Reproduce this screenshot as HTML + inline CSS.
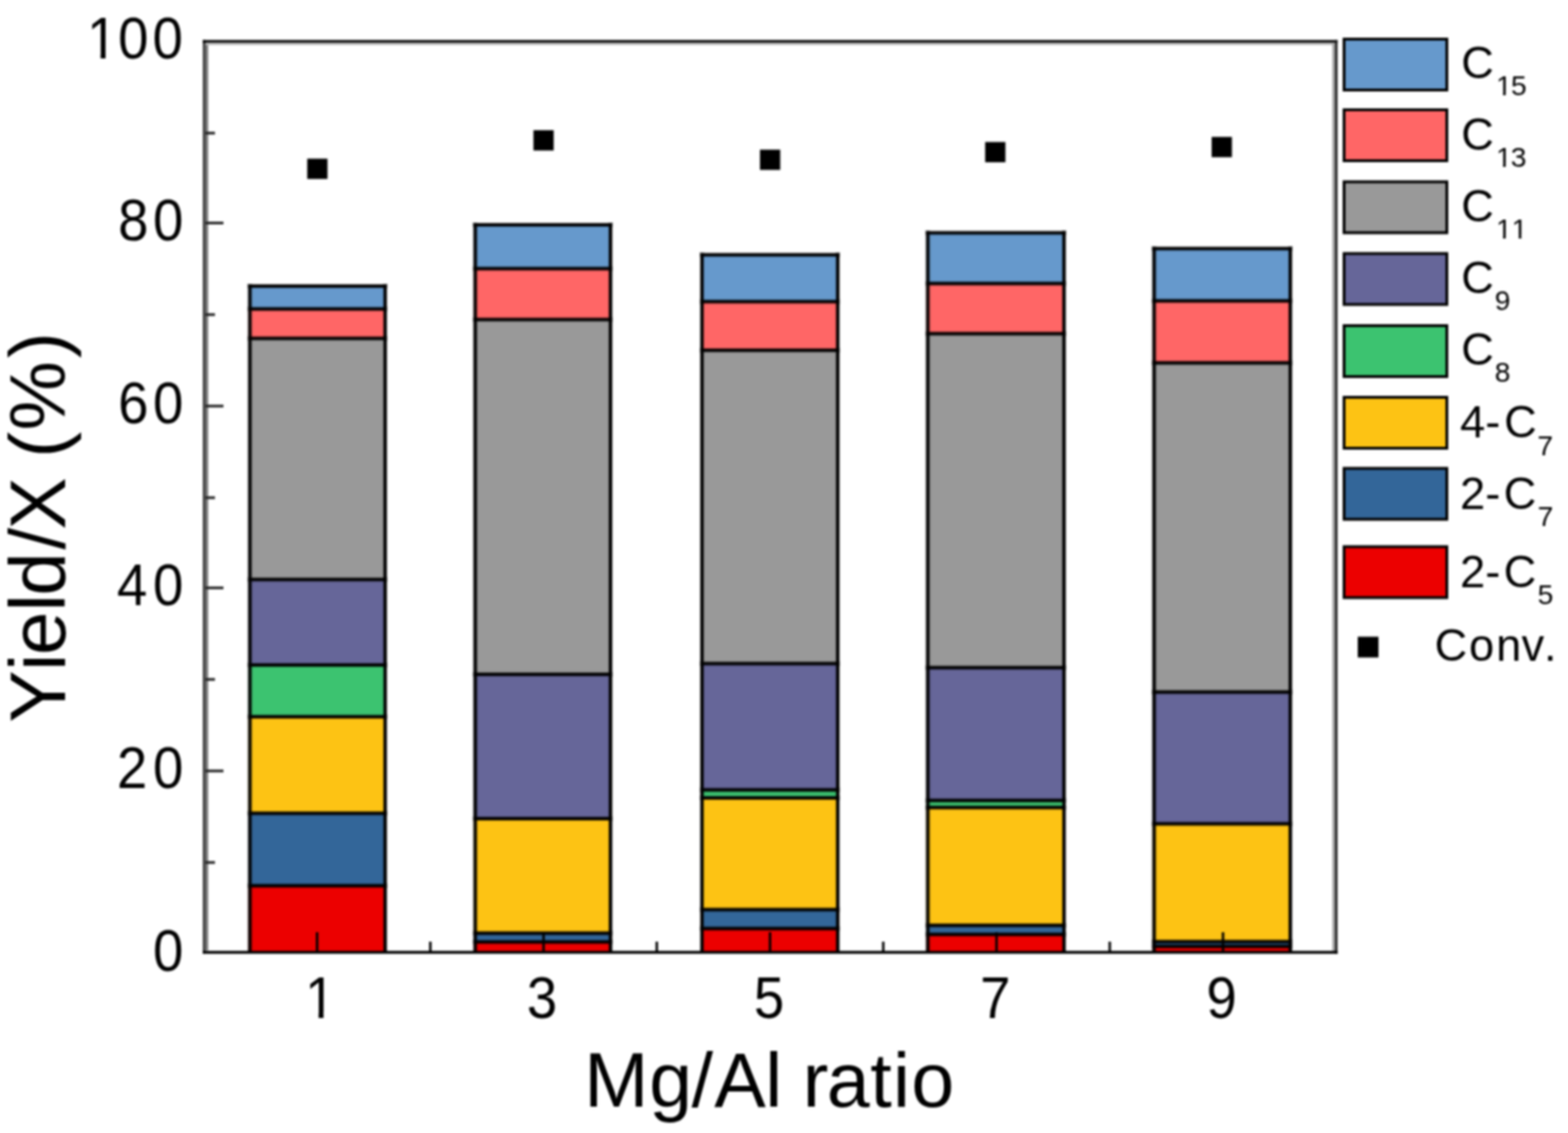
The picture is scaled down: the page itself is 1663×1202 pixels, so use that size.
<!DOCTYPE html><html><head><meta charset="utf-8"><title>Mg/Al ratio chart</title><style>html,body{margin:0;padding:0;background:#fff;}svg{display:block;}body{filter:blur(0.8px);}text{font-family:"Liberation Sans", Arial, Helvetica, sans-serif;fill:#000;}</style></head><body>
<svg width="1663" height="1202" viewBox="0 0 1663 1202">
<rect x="0" y="0" width="1663" height="1202" fill="#fff"/>
<rect x="263.50" y="303.50" width="146.50" height="24.30" fill="#6699CC"/>
<rect x="263.50" y="327.80" width="146.50" height="31.20" fill="#FF6666"/>
<rect x="263.50" y="359.00" width="146.50" height="255.80" fill="#999999"/>
<rect x="263.50" y="614.80" width="146.50" height="90.70" fill="#666699"/>
<rect x="263.50" y="705.50" width="146.50" height="54.90" fill="#3CC370"/>
<rect x="263.50" y="760.40" width="146.50" height="102.40" fill="#FDC314"/>
<rect x="263.50" y="862.80" width="146.50" height="76.90" fill="#336699"/>
<rect x="263.50" y="939.70" width="146.50" height="70.30" fill="#EC0000"/>
<rect x="502.50" y="238.50" width="146.50" height="46.50" fill="#6699CC"/>
<rect x="502.50" y="285.00" width="146.50" height="54.00" fill="#FF6666"/>
<rect x="502.50" y="339.00" width="146.50" height="376.40" fill="#999999"/>
<rect x="502.50" y="715.40" width="146.50" height="153.10" fill="#666699"/>
<rect x="502.50" y="868.50" width="146.50" height="121.50" fill="#FDC314"/>
<rect x="502.50" y="990.00" width="146.50" height="9.30" fill="#336699"/>
<rect x="502.50" y="999.30" width="146.50" height="10.70" fill="#EC0000"/>
<rect x="743.00" y="270.30" width="147.00" height="49.70" fill="#6699CC"/>
<rect x="743.00" y="320.00" width="147.00" height="51.60" fill="#FF6666"/>
<rect x="743.00" y="371.60" width="147.00" height="332.40" fill="#999999"/>
<rect x="743.00" y="704.00" width="147.00" height="134.00" fill="#666699"/>
<rect x="743.00" y="838.00" width="147.00" height="8.50" fill="#3CC370"/>
<rect x="743.00" y="846.50" width="147.00" height="118.50" fill="#FDC314"/>
<rect x="743.00" y="965.00" width="147.00" height="20.10" fill="#336699"/>
<rect x="743.00" y="985.10" width="147.00" height="24.90" fill="#EC0000"/>
<rect x="982.50" y="247.00" width="147.50" height="53.80" fill="#6699CC"/>
<rect x="982.50" y="300.80" width="147.50" height="53.20" fill="#FF6666"/>
<rect x="982.50" y="354.00" width="147.50" height="354.30" fill="#999999"/>
<rect x="982.50" y="708.30" width="147.50" height="140.90" fill="#666699"/>
<rect x="982.50" y="849.20" width="147.50" height="7.50" fill="#3CC370"/>
<rect x="982.50" y="856.70" width="147.50" height="125.00" fill="#FDC314"/>
<rect x="982.50" y="981.70" width="147.50" height="9.60" fill="#336699"/>
<rect x="982.50" y="991.30" width="147.50" height="18.70" fill="#EC0000"/>
<rect x="1222.50" y="263.70" width="147.50" height="55.50" fill="#6699CC"/>
<rect x="1222.50" y="319.20" width="147.50" height="65.80" fill="#FF6666"/>
<rect x="1222.50" y="385.00" width="147.50" height="349.20" fill="#999999"/>
<rect x="1222.50" y="734.20" width="147.50" height="139.80" fill="#666699"/>
<rect x="1222.50" y="874.00" width="147.50" height="125.00" fill="#FDC314"/>
<rect x="1222.50" y="999.00" width="147.50" height="5.00" fill="#336699"/>
<rect x="1222.50" y="1004.00" width="147.50" height="6.00" fill="#EC0000"/>
<rect x="262.50" y="301.00" width="5.00" height="710.00" fill="#000" fill-opacity="0.35"/>
<rect x="263.50" y="302.00" width="3.00" height="708.00" fill="#000"/>
<rect x="406.00" y="301.00" width="5.00" height="710.00" fill="#000" fill-opacity="0.35"/>
<rect x="407.00" y="302.00" width="3.00" height="708.00" fill="#000"/>
<rect x="262.50" y="301.00" width="148.50" height="5.00" fill="#000" fill-opacity="0.35"/>
<rect x="263.50" y="302.00" width="146.50" height="3.00" fill="#000"/>
<rect x="262.50" y="325.30" width="148.50" height="5.00" fill="#000" fill-opacity="0.35"/>
<rect x="263.50" y="326.30" width="146.50" height="3.00" fill="#000"/>
<rect x="262.50" y="356.50" width="148.50" height="5.00" fill="#000" fill-opacity="0.35"/>
<rect x="263.50" y="357.50" width="146.50" height="3.00" fill="#000"/>
<rect x="262.50" y="612.30" width="148.50" height="5.00" fill="#000" fill-opacity="0.35"/>
<rect x="263.50" y="613.30" width="146.50" height="3.00" fill="#000"/>
<rect x="262.50" y="703.00" width="148.50" height="5.00" fill="#000" fill-opacity="0.35"/>
<rect x="263.50" y="704.00" width="146.50" height="3.00" fill="#000"/>
<rect x="262.50" y="757.90" width="148.50" height="5.00" fill="#000" fill-opacity="0.35"/>
<rect x="263.50" y="758.90" width="146.50" height="3.00" fill="#000"/>
<rect x="262.50" y="860.30" width="148.50" height="5.00" fill="#000" fill-opacity="0.35"/>
<rect x="263.50" y="861.30" width="146.50" height="3.00" fill="#000"/>
<rect x="262.50" y="937.20" width="148.50" height="5.00" fill="#000" fill-opacity="0.35"/>
<rect x="263.50" y="938.20" width="146.50" height="3.00" fill="#000"/>
<rect x="501.50" y="236.00" width="5.00" height="775.00" fill="#000" fill-opacity="0.35"/>
<rect x="502.50" y="237.00" width="3.00" height="773.00" fill="#000"/>
<rect x="645.00" y="236.00" width="5.00" height="775.00" fill="#000" fill-opacity="0.35"/>
<rect x="646.00" y="237.00" width="3.00" height="773.00" fill="#000"/>
<rect x="501.50" y="236.00" width="148.50" height="5.00" fill="#000" fill-opacity="0.35"/>
<rect x="502.50" y="237.00" width="146.50" height="3.00" fill="#000"/>
<rect x="501.50" y="282.50" width="148.50" height="5.00" fill="#000" fill-opacity="0.35"/>
<rect x="502.50" y="283.50" width="146.50" height="3.00" fill="#000"/>
<rect x="501.50" y="336.50" width="148.50" height="5.00" fill="#000" fill-opacity="0.35"/>
<rect x="502.50" y="337.50" width="146.50" height="3.00" fill="#000"/>
<rect x="501.50" y="712.90" width="148.50" height="5.00" fill="#000" fill-opacity="0.35"/>
<rect x="502.50" y="713.90" width="146.50" height="3.00" fill="#000"/>
<rect x="501.50" y="866.00" width="148.50" height="5.00" fill="#000" fill-opacity="0.35"/>
<rect x="502.50" y="867.00" width="146.50" height="3.00" fill="#000"/>
<rect x="501.50" y="987.50" width="148.50" height="5.00" fill="#000" fill-opacity="0.35"/>
<rect x="502.50" y="988.50" width="146.50" height="3.00" fill="#000"/>
<rect x="501.50" y="996.80" width="148.50" height="5.00" fill="#000" fill-opacity="0.35"/>
<rect x="502.50" y="997.80" width="146.50" height="3.00" fill="#000"/>
<rect x="742.00" y="267.80" width="5.00" height="743.20" fill="#000" fill-opacity="0.35"/>
<rect x="743.00" y="268.80" width="3.00" height="741.20" fill="#000"/>
<rect x="886.00" y="267.80" width="5.00" height="743.20" fill="#000" fill-opacity="0.35"/>
<rect x="887.00" y="268.80" width="3.00" height="741.20" fill="#000"/>
<rect x="742.00" y="267.80" width="149.00" height="5.00" fill="#000" fill-opacity="0.35"/>
<rect x="743.00" y="268.80" width="147.00" height="3.00" fill="#000"/>
<rect x="742.00" y="317.50" width="149.00" height="5.00" fill="#000" fill-opacity="0.35"/>
<rect x="743.00" y="318.50" width="147.00" height="3.00" fill="#000"/>
<rect x="742.00" y="369.10" width="149.00" height="5.00" fill="#000" fill-opacity="0.35"/>
<rect x="743.00" y="370.10" width="147.00" height="3.00" fill="#000"/>
<rect x="742.00" y="701.50" width="149.00" height="5.00" fill="#000" fill-opacity="0.35"/>
<rect x="743.00" y="702.50" width="147.00" height="3.00" fill="#000"/>
<rect x="742.00" y="835.50" width="149.00" height="5.00" fill="#000" fill-opacity="0.35"/>
<rect x="743.00" y="836.50" width="147.00" height="3.00" fill="#000"/>
<rect x="742.00" y="844.00" width="149.00" height="5.00" fill="#000" fill-opacity="0.35"/>
<rect x="743.00" y="845.00" width="147.00" height="3.00" fill="#000"/>
<rect x="742.00" y="962.50" width="149.00" height="5.00" fill="#000" fill-opacity="0.35"/>
<rect x="743.00" y="963.50" width="147.00" height="3.00" fill="#000"/>
<rect x="742.00" y="982.60" width="149.00" height="5.00" fill="#000" fill-opacity="0.35"/>
<rect x="743.00" y="983.60" width="147.00" height="3.00" fill="#000"/>
<rect x="981.50" y="244.50" width="5.00" height="766.50" fill="#000" fill-opacity="0.35"/>
<rect x="982.50" y="245.50" width="3.00" height="764.50" fill="#000"/>
<rect x="1126.00" y="244.50" width="5.00" height="766.50" fill="#000" fill-opacity="0.35"/>
<rect x="1127.00" y="245.50" width="3.00" height="764.50" fill="#000"/>
<rect x="981.50" y="244.50" width="149.50" height="5.00" fill="#000" fill-opacity="0.35"/>
<rect x="982.50" y="245.50" width="147.50" height="3.00" fill="#000"/>
<rect x="981.50" y="298.30" width="149.50" height="5.00" fill="#000" fill-opacity="0.35"/>
<rect x="982.50" y="299.30" width="147.50" height="3.00" fill="#000"/>
<rect x="981.50" y="351.50" width="149.50" height="5.00" fill="#000" fill-opacity="0.35"/>
<rect x="982.50" y="352.50" width="147.50" height="3.00" fill="#000"/>
<rect x="981.50" y="705.80" width="149.50" height="5.00" fill="#000" fill-opacity="0.35"/>
<rect x="982.50" y="706.80" width="147.50" height="3.00" fill="#000"/>
<rect x="981.50" y="846.70" width="149.50" height="5.00" fill="#000" fill-opacity="0.35"/>
<rect x="982.50" y="847.70" width="147.50" height="3.00" fill="#000"/>
<rect x="981.50" y="854.20" width="149.50" height="5.00" fill="#000" fill-opacity="0.35"/>
<rect x="982.50" y="855.20" width="147.50" height="3.00" fill="#000"/>
<rect x="981.50" y="979.20" width="149.50" height="5.00" fill="#000" fill-opacity="0.35"/>
<rect x="982.50" y="980.20" width="147.50" height="3.00" fill="#000"/>
<rect x="981.50" y="988.80" width="149.50" height="5.00" fill="#000" fill-opacity="0.35"/>
<rect x="982.50" y="989.80" width="147.50" height="3.00" fill="#000"/>
<rect x="1221.50" y="261.20" width="5.00" height="749.80" fill="#000" fill-opacity="0.35"/>
<rect x="1222.50" y="262.20" width="3.00" height="747.80" fill="#000"/>
<rect x="1366.00" y="261.20" width="5.00" height="749.80" fill="#000" fill-opacity="0.35"/>
<rect x="1367.00" y="262.20" width="3.00" height="747.80" fill="#000"/>
<rect x="1221.50" y="261.20" width="149.50" height="5.00" fill="#000" fill-opacity="0.35"/>
<rect x="1222.50" y="262.20" width="147.50" height="3.00" fill="#000"/>
<rect x="1221.50" y="316.70" width="149.50" height="5.00" fill="#000" fill-opacity="0.35"/>
<rect x="1222.50" y="317.70" width="147.50" height="3.00" fill="#000"/>
<rect x="1221.50" y="382.50" width="149.50" height="5.00" fill="#000" fill-opacity="0.35"/>
<rect x="1222.50" y="383.50" width="147.50" height="3.00" fill="#000"/>
<rect x="1221.50" y="731.70" width="149.50" height="5.00" fill="#000" fill-opacity="0.35"/>
<rect x="1222.50" y="732.70" width="147.50" height="3.00" fill="#000"/>
<rect x="1221.50" y="871.50" width="149.50" height="5.00" fill="#000" fill-opacity="0.35"/>
<rect x="1222.50" y="872.50" width="147.50" height="3.00" fill="#000"/>
<rect x="1221.50" y="996.50" width="149.50" height="5.00" fill="#000" fill-opacity="0.35"/>
<rect x="1222.50" y="997.50" width="147.50" height="3.00" fill="#000"/>
<rect x="1221.50" y="1001.50" width="149.50" height="5.00" fill="#000" fill-opacity="0.35"/>
<rect x="1222.50" y="1002.50" width="147.50" height="3.00" fill="#000"/>
<rect x="215" y="42.5" width="1203.5" height="969.3" fill="none" stroke="none"/>
<rect x="215" y="42.5" width="3" height="969" fill="#474747"/>
<rect x="218" y="45.5" width="2.8" height="963" fill="#7a7a7a"/>
<rect x="215" y="42.5" width="1203.5" height="3" fill="#000"/>
<rect x="218" y="45.5" width="1195" height="2.3" fill="#bbb"/>
<rect x="1413" y="45.5" width="3" height="963.5" fill="#a5a5a5"/>
<rect x="1416" y="42.5" width="2.5" height="969.5" fill="#1a1a1a"/>
<rect x="215" y="1008.8" width="1203.5" height="3" fill="#000"/>
<rect x="335.00" y="989.00" width="2.6" height="20.00" fill="#000"/>
<rect x="455.10" y="999.00" width="2.6" height="10.00" fill="#000"/>
<rect x="575.20" y="989.00" width="2.6" height="20.00" fill="#000"/>
<rect x="695.30" y="999.00" width="2.6" height="10.00" fill="#000"/>
<rect x="815.40" y="989.00" width="2.6" height="20.00" fill="#000"/>
<rect x="935.50" y="999.00" width="2.6" height="10.00" fill="#000"/>
<rect x="1055.60" y="989.00" width="2.6" height="20.00" fill="#000"/>
<rect x="1175.70" y="999.00" width="2.6" height="10.00" fill="#000"/>
<rect x="1295.80" y="989.00" width="2.6" height="20.00" fill="#000"/>
<rect x="218" y="913.60" width="10.00" height="2.8" fill="#222"/>
<rect x="218" y="816.50" width="19.00" height="2.8" fill="#222"/>
<rect x="218" y="719.40" width="10.00" height="2.8" fill="#222"/>
<rect x="218" y="622.30" width="19.00" height="2.8" fill="#222"/>
<rect x="218" y="526.60" width="10.00" height="2.8" fill="#222"/>
<rect x="218" y="429.40" width="19.00" height="2.8" fill="#222"/>
<rect x="218" y="332.40" width="10.00" height="2.8" fill="#222"/>
<rect x="218" y="235.20" width="19.00" height="2.8" fill="#222"/>
<rect x="218" y="139.80" width="10.00" height="2.8" fill="#222"/>
<rect x="325.85" y="168.35" width="21.50" height="21.50" fill="#000"/>
<rect x="565.75" y="138.15" width="21.50" height="21.50" fill="#000"/>
<rect x="806.00" y="158.75" width="21.50" height="21.50" fill="#000"/>
<rect x="1044.85" y="150.65" width="21.50" height="21.50" fill="#000"/>
<rect x="1285.05" y="145.25" width="21.50" height="21.50" fill="#000"/>
<g transform="scale(0.9200,1)"><text x="193.91" y="1030.00" font-size="63" text-anchor="middle">0</text></g>
<g transform="scale(0.9200,1)"><text x="152.39 193.91" y="835.58" font-size="63" text-anchor="middle">20</text></g>
<g transform="scale(0.9200,1)"><text x="152.17 193.91" y="642.16" font-size="63" text-anchor="middle">40</text></g>
<g transform="scale(0.9200,1)"><text x="153.70 193.91" y="448.54" font-size="63" text-anchor="middle">60</text></g>
<g transform="scale(0.9200,1)"><text x="153.70 193.91" y="254.82" font-size="63" text-anchor="middle">80</text></g>
<g transform="scale(0.9200,1)"><text x="117.72 153.70 193.26" y="62.20" font-size="63" text-anchor="middle">100</text><rect x="103.50" y="56.29" width="12.46" height="6.91" fill="#fff"/><rect x="121.69" y="56.29" width="11.97" height="6.91" fill="#fff"/></g>
<g transform="scale(0.9200,1)"><text x="369.02" y="1080.00" font-size="63" text-anchor="middle">1</text><rect x="354.80" y="1074.09" width="12.46" height="6.91" fill="#fff"/><rect x="372.99" y="1074.09" width="11.97" height="6.91" fill="#fff"/></g>
<g transform="scale(0.9200,1)"><text x="624.89" y="1080.00" font-size="63" text-anchor="middle">3</text></g>
<g transform="scale(0.9200,1)"><text x="886.52" y="1080.00" font-size="63" text-anchor="middle">5</text></g>
<g transform="scale(0.9200,1)"><text x="1147.39" y="1080.00" font-size="63" text-anchor="middle">7</text></g>
<g transform="scale(0.9200,1)"><text x="1408.26" y="1080.00" font-size="63" text-anchor="middle">9</text></g>
<text x="653.70 711.30 744.80 784.90 820.50 843.00 865.00 899.60 934.30 956.20 989.20" y="1174" font-size="82" text-anchor="middle">Mg/Al&#160;ratio</text>
<text transform="translate(69,0) rotate(-90)" x="-738.80 -702.50 -671.90 -639.40 -608.80 -571.50 -534.10 -502.00 -472.00 -419.90 -366.10" y="0" font-size="83" text-anchor="middle">Yield/X&#160;(%)</text>
<rect x="1425.50" y="41.50" width="109.00" height="54.00" fill="#6699CC" stroke="#000" stroke-width="3.0"/>
<text x="1567.00" y="83.00" font-size="48" text-anchor="middle">C</text>
<text x="1595.00 1610.80" y="101.20" font-size="30" text-anchor="middle">15</text><rect x="1587.44" y="97.76" width="6.68" height="4.44" fill="#fff"/><rect x="1596.93" y="97.76" width="6.44" height="4.44" fill="#fff"/>
<rect x="1425.50" y="116.50" width="109.00" height="54.00" fill="#FF6666" stroke="#000" stroke-width="3.0"/>
<text x="1567.20" y="158.60" font-size="48" text-anchor="middle">C</text>
<text x="1595.00 1610.60" y="176.80" font-size="30" text-anchor="middle">13</text><rect x="1587.44" y="173.36" width="6.68" height="4.44" fill="#fff"/><rect x="1596.93" y="173.36" width="6.44" height="4.44" fill="#fff"/>
<rect x="1425.50" y="192.90" width="109.00" height="54.00" fill="#999999" stroke="#000" stroke-width="3.0"/>
<text x="1567.20" y="235.00" font-size="48" text-anchor="middle">C</text>
<text x="1595.00 1611.60" y="253.20" font-size="30" text-anchor="middle">11</text><rect x="1587.44" y="249.76" width="6.68" height="4.44" fill="#fff"/><rect x="1596.93" y="249.76" width="6.44" height="4.44" fill="#fff"/><rect x="1604.04" y="249.76" width="6.68" height="4.44" fill="#fff"/><rect x="1613.53" y="249.76" width="6.44" height="4.44" fill="#fff"/>
<rect x="1425.50" y="269.00" width="109.00" height="54.00" fill="#666699" stroke="#000" stroke-width="3.0"/>
<text x="1567.20" y="310.60" font-size="48" text-anchor="middle">C</text>
<text x="1593.70" y="328.80" font-size="30" text-anchor="middle">9</text>
<rect x="1425.50" y="345.50" width="109.00" height="54.00" fill="#3CC370" stroke="#000" stroke-width="3.0"/>
<text x="1567.20" y="387.00" font-size="48" text-anchor="middle">C</text>
<text x="1593.70" y="405.20" font-size="30" text-anchor="middle">8</text>
<rect x="1425.50" y="421.50" width="109.00" height="54.00" fill="#FDC314" stroke="#000" stroke-width="3.0"/>
<text x="1561.80 1583.20 1612.70" y="464.30" font-size="48" text-anchor="middle">4-C</text>
<text x="1638.80" y="482.50" font-size="30" text-anchor="middle">7</text>
<rect x="1425.50" y="496.90" width="109.00" height="54.00" fill="#336699" stroke="#000" stroke-width="3.0"/>
<text x="1561.80 1583.20 1612.20" y="539.50" font-size="48" text-anchor="middle">2-C</text>
<text x="1639.20" y="557.70" font-size="30" text-anchor="middle">7</text>
<rect x="1425.50" y="580.00" width="109.00" height="54.00" fill="#EC0000" stroke="#000" stroke-width="3.0"/>
<text x="1561.80 1583.20 1612.20" y="623.20" font-size="48" text-anchor="middle">2-C</text>
<text x="1639.20" y="641.40" font-size="30" text-anchor="middle">5</text>
<rect x="1440.00" y="675.50" width="22" height="22" fill="#000"/>
<text x="1538.8 1571.3 1600.2 1625.7 1644.2" y="701" font-size="48" text-anchor="middle">Conv.</text>
</svg></body></html>
